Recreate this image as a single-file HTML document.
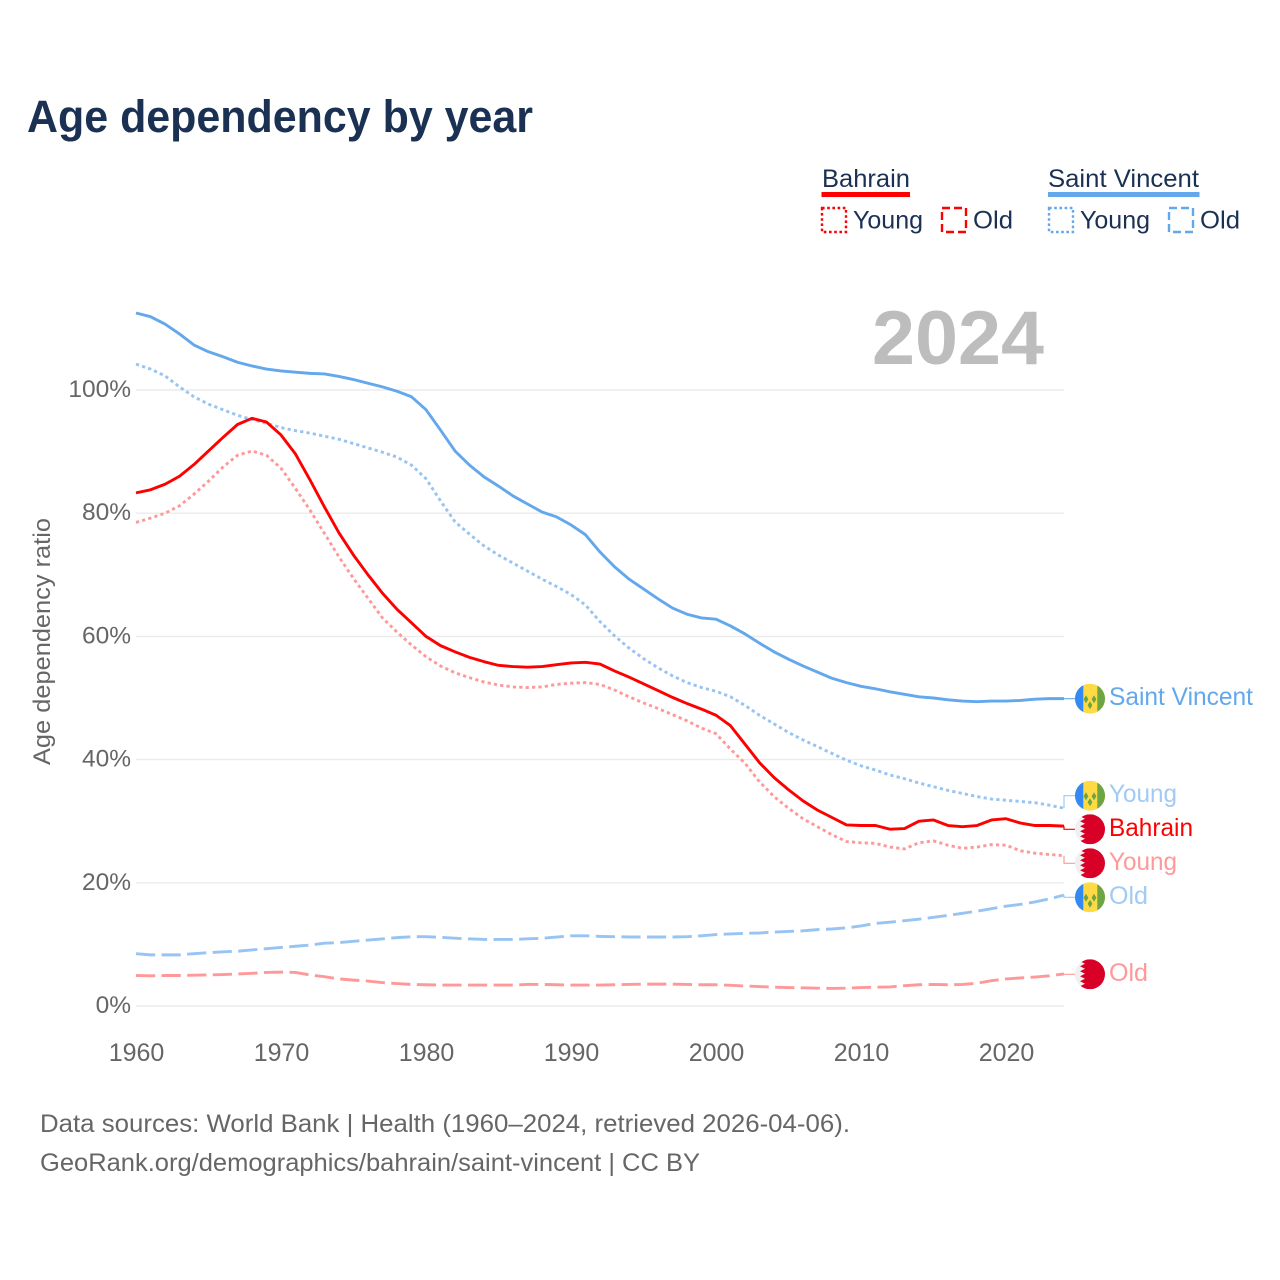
<!DOCTYPE html>
<html lang="en">
<head>
<meta charset="utf-8">
<title>Age dependency by year</title>
<style>
html,body{margin:0;padding:0;background:#fff;}
svg{display:block;font-family:"Liberation Sans",sans-serif;}
</style>
</head>
<body>
<svg id="chart" width="1280" height="1280" viewBox="0 0 1280 1280" xmlns="http://www.w3.org/2000/svg">
  <defs>
    <clipPath id="flag-clip"><circle cx="0" cy="0" r="15"></circle></clipPath>
    <g id="flag-vc">
      <g clip-path="url(#flag-clip)">
        <rect x="-15" y="-15" width="30" height="30" fill="#ffda44"></rect>
        <rect x="-15" y="-15" width="8.3" height="30" fill="#338af3"></rect>
        <rect x="7.3" y="-15" width="7.7" height="30" fill="#6da544"></rect>
        <path d="M-4 -3.5 L-1.6 0.5 L-4 4.5 L-6.4 0.5 Z M4 -3.5 L6.4 0.5 L4 4.5 L1.6 0.5 Z M0 2.5 L2.4 6.5 L0 10.5 L-2.4 6.5 Z" fill="#6da544"></path>
      </g>
    </g>
    <g id="flag-bh">
      <g clip-path="url(#flag-clip)">
        <rect x="-15" y="-15" width="30" height="30" fill="#f0f0f0"></rect>
        <path d="M-7 -15 L15 -15 L15 15 L-7 15 L-10 12 L-5 9.5 L-10 7 L-5 4.5 L-10 2 L-5 -0.5 L-10 -3 L-5 -5.5 L-10 -8 L-5 -10.5 L-10 -13 Z" fill="#d80027"></path>
      </g>
    </g>
  </defs>

  <rect x="0" y="0" width="1280" height="1280" fill="#ffffff"></rect>

  <text x="27" y="132" font-size="45" font-weight="700" fill="#1a3153" textLength="506" lengthAdjust="spacingAndGlyphs">Age dependency by year</text>

  <g>
    <text x="822" y="187" font-size="25" fill="#1a3153" textLength="88" lengthAdjust="spacingAndGlyphs">Bahrain</text>
    <rect x="821.5" y="192" width="88.5" height="5" fill="#ff0000"></rect>
    <rect x="822" y="208" width="24" height="24" fill="none" stroke="#ff0000" stroke-width="2.4" stroke-dasharray="2.6 2.6"></rect>
    <text x="853" y="228.5" font-size="25" fill="#1a3153" textLength="70" lengthAdjust="spacingAndGlyphs">Young</text>
    <rect x="942" y="208" width="24" height="24" fill="none" stroke="#ff0000" stroke-width="2.4" stroke-dasharray="8 4"></rect>
    <text x="973" y="228.5" font-size="25" fill="#1a3153" textLength="40" lengthAdjust="spacingAndGlyphs">Old</text>

    <text x="1048" y="187" font-size="25" fill="#1a3153" textLength="151" lengthAdjust="spacingAndGlyphs">Saint Vincent</text>
    <rect x="1048" y="192" width="151.5" height="5" fill="#63a7ed"></rect>
    <rect x="1049" y="208" width="24" height="24" fill="none" stroke="#63a7ed" stroke-width="2.4" stroke-dasharray="2.6 2.6"></rect>
    <text x="1080" y="228.5" font-size="25" fill="#1a3153" textLength="70" lengthAdjust="spacingAndGlyphs">Young</text>
    <rect x="1169" y="208" width="24" height="24" fill="none" stroke="#63a7ed" stroke-width="2.4" stroke-dasharray="8 4"></rect>
    <text x="1200" y="228.5" font-size="25" fill="#1a3153" textLength="40" lengthAdjust="spacingAndGlyphs">Old</text>
  </g>

  <text x="872" y="364" font-size="76" font-weight="700" fill="#bdbdbd" textLength="172" lengthAdjust="spacingAndGlyphs">2024</text>

  <text transform="translate(50,765) rotate(-90)" x="0" y="0" font-size="24" fill="#666666" textLength="247" lengthAdjust="spacingAndGlyphs">Age dependency ratio</text>

  <g id="grid"></g>
  <g id="yticks"></g>
  <g id="xticks"></g>
  <g id="series"></g>
  <g id="ends"></g>

  <text x="40" y="1132" font-size="25" fill="#666666" textLength="810" lengthAdjust="spacingAndGlyphs">Data sources: World Bank | Health (1960–2024, retrieved 2026-04-06).</text>
  <text x="40" y="1171" font-size="25" fill="#666666" textLength="660" lengthAdjust="spacingAndGlyphs">GeoRank.org/demographics/bahrain/saint-vincent | CC BY</text>
</svg>

<script>
var firstYear = 1960;
var yTickValues = [0, 20, 40, 60, 80, 100];
var xTickValues = [1960, 1970, 1980, 1990, 2000, 2010, 2020];

var saintVincentTotal = [
  112.5,111.9,110.7,109.1,107.3,106.2,105.4,104.5,103.9,103.4,
  103.1,102.9,102.7,102.6,102.2,101.7,101.1,100.5,99.8,98.9,
  96.8,93.5,90.1,87.8,85.9,84.4,82.8,81.5,80.2,79.4,
  78.1,76.5,73.7,71.3,69.3,67.7,66.1,64.6,63.6,63.0,
  62.8,61.7,60.4,58.9,57.5,56.3,55.2,54.2,53.2,52.5,
  51.9,51.5,51.0,50.6,50.2,50.0,49.7,49.5,49.4,49.5,
  49.5,49.6,49.8,49.9,49.9
];
var saintVincentYoung = [
  104.2,103.4,102.3,100.5,98.9,97.7,96.8,95.9,95.2,94.6,
  93.9,93.4,93.0,92.5,92.0,91.3,90.6,89.9,89.1,87.8,
  85.6,82.0,78.6,76.6,74.7,73.2,71.9,70.6,69.3,68.1,
  66.8,65.1,62.4,60.1,58.1,56.4,54.9,53.6,52.5,51.7,
  51.1,50.2,48.8,47.2,45.8,44.4,43.2,42.1,41.0,39.9,
  39.0,38.3,37.5,36.9,36.2,35.6,35.0,34.5,34.0,33.6,
  33.4,33.2,33.0,32.6,32.1
];
var saintVincentOld = [
  8.5,8.3,8.3,8.3,8.5,8.65,8.8,8.9,9.1,9.3,
  9.5,9.7,9.9,10.2,10.3,10.5,10.7,10.9,11.1,11.25,
  11.25,11.15,11.0,10.9,10.8,10.8,10.8,10.9,11.0,11.2,
  11.4,11.4,11.3,11.25,11.2,11.2,11.2,11.2,11.25,11.4,
  11.6,11.7,11.8,11.85,12.0,12.1,12.2,12.4,12.5,12.7,
  13.0,13.4,13.6,13.85,14.1,14.4,14.7,15.05,15.4,15.8,
  16.2,16.5,16.9,17.4,18.0
];
var bahrainTotal = [
  83.3,83.8,84.7,86.0,87.9,90.1,92.3,94.4,95.4,94.8,
  92.7,89.6,85.4,81.0,76.8,73.2,70.0,67.0,64.4,62.2,
  60.0,58.5,57.5,56.6,55.9,55.3,55.1,55.0,55.1,55.4,
  55.7,55.8,55.5,54.4,53.4,52.3,51.2,50.1,49.1,48.2,
  47.2,45.5,42.5,39.5,37.1,35.1,33.3,31.8,30.6,29.4,
  29.3,29.3,28.7,28.8,30.0,30.2,29.3,29.1,29.3,30.2,
  30.4,29.7,29.3,29.3,29.2
];
var bahrainYoung = [
  78.5,79.2,80.0,81.2,83.1,85.2,87.5,89.4,90.1,89.4,
  87.3,84.0,80.5,76.7,72.9,69.4,66.2,63.0,60.7,58.6,
  56.7,55.2,54.1,53.3,52.6,52.1,51.8,51.7,51.8,52.2,
  52.4,52.5,52.2,51.3,50.2,49.2,48.3,47.3,46.3,45.1,
  44.2,41.7,39.4,36.4,34.0,32.1,30.4,29.1,27.8,26.7,
  26.5,26.4,25.8,25.5,26.5,26.8,26.1,25.6,25.8,26.2,
  26.1,25.2,24.8,24.6,24.4
];
var bahrainOld = [
  4.95,4.9,4.95,4.95,5.0,5.05,5.1,5.2,5.3,5.45,
  5.5,5.45,5.05,4.75,4.4,4.2,4.05,3.8,3.65,3.5,
  3.45,3.4,3.4,3.4,3.4,3.4,3.4,3.5,3.5,3.45,
  3.4,3.4,3.4,3.45,3.5,3.55,3.55,3.55,3.5,3.45,
  3.45,3.35,3.25,3.15,3.05,3.0,2.95,2.9,2.85,2.9,
  3.0,3.05,3.1,3.3,3.45,3.5,3.45,3.5,3.7,4.1,
  4.4,4.55,4.7,4.9,5.2
];

var NS = 'http://www.w3.org/2000/svg';
function xScale(year) { return 136 + (year - 1960) * 14.5; }
function yScale(v) { return 1006 - v * 6.16; }
function make(tag, attrs, parent) {
  var el = document.createElementNS(NS, tag);
  for (var k in attrs) { el.setAttribute(k, attrs[k]); }
  parent.appendChild(el);
  return el;
}

var gridGroup = document.getElementById('grid');
var yTickGroup = document.getElementById('yticks');
var xTickGroup = document.getElementById('xticks');
var seriesGroup = document.getElementById('series');
var endGroup = document.getElementById('ends');

yTickValues.forEach(function (v) {
  var line = make('line', {x1: 136, x2: 1064, y1: yScale(v), y2: yScale(v), stroke: '#ebebeb', 'stroke-width': 1.4}, gridGroup);
  
  
  var label = make('text', {x: 131, y: yScale(v) + 7, 'text-anchor': 'end', 'font-size': 24.5, fill: '#666666'}, yTickGroup);
  
  
  label.textContent = v + '%';
});

xTickValues.forEach(function (yr) {
  var label = make('text', {x: xScale(yr) + 0.5, y: 1061, 'text-anchor': 'middle', 'font-size': 25, fill: '#666666'}, xTickGroup);
  
  
  label.textContent = yr;
});

function drawSeries(name, values, color, dash) {
  var pts = values.map(function (v, i) {
    return xScale(firstYear + i).toFixed(2) + ',' + yScale(v).toFixed(2);
  }).join(' ');
  var attrs = {points: pts, fill: 'none', stroke: color, 'stroke-width': 2.9, 'stroke-linejoin': 'round'};
  if (dash) { attrs['stroke-dasharray'] = dash; }
  var line = make('polyline', attrs, seriesGroup);
  
  
}

function drawEnd(name, values, color, labelY, flagId, text, textW) {
  var last = values[values.length - 1];
  var yEnd = yScale(last);
  var conn = make('path', {d: 'M1064 ' + yEnd.toFixed(2) + ' L1064 ' + labelY + ' L1075 ' + labelY, fill: 'none', stroke: color, 'stroke-width': 1.2}, endGroup);
  
  
  var flag = make('use', {href: '#' + flagId, transform: 'translate(1090,' + labelY + ')'}, endGroup);
  
  
  var label = make('text', {x: 1109, y: labelY + 6.5, 'font-size': 25, fill: color, textLength: textW, lengthAdjust: 'spacingAndGlyphs'}, endGroup);
  
  
  label.textContent = text;
}

var blue = '#63a7ed';
var blueLight = '#a1caf4';
var blueLine = '#97c4f2';
var red = '#ff0000';
var redLight = '#ff9999';
var dotted = '3.2 3.2';
var dashed = '19.2 6.4';

drawSeries('line-saint-vincent-old', saintVincentOld, blueLine, dashed);
drawSeries('line-bahrain-old', bahrainOld, redLight, dashed);
drawSeries('line-saint-vincent-young', saintVincentYoung, blueLine, dotted);
drawSeries('line-bahrain-young', bahrainYoung, redLight, dotted);
drawSeries('line-saint-vincent-total', saintVincentTotal, blue, null);
drawSeries('line-bahrain-total', bahrainTotal, red, null);

drawEnd('end-saint-vincent-total', saintVincentTotal, blue, 698.7, 'flag-vc', 'Saint Vincent', 144);
drawEnd('end-saint-vincent-young', saintVincentYoung, blueLight, 795.7, 'flag-vc', 'Young', 68);
drawEnd('end-bahrain-total', bahrainTotal, red, 829.3, 'flag-bh', 'Bahrain', 84);
drawEnd('end-bahrain-young', bahrainYoung, redLight, 863.3, 'flag-bh', 'Young', 68);
drawEnd('end-saint-vincent-old', saintVincentOld, blueLight, 897.3, 'flag-vc', 'Old', 39);
drawEnd('end-bahrain-old', bahrainOld, redLight, 974.3, 'flag-bh', 'Old', 39);
</script>
</body>
</html>
